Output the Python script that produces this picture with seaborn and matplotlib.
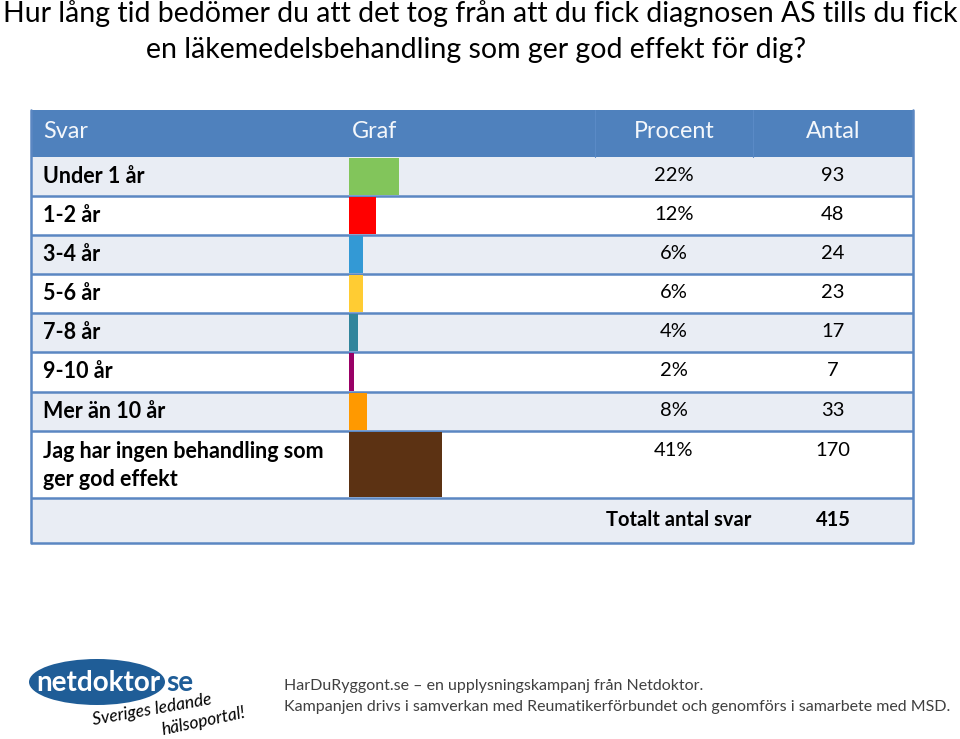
import numpy as np
import pandas as pd
import matplotlib
matplotlib.use("Agg")
import matplotlib.pyplot as plt
import seaborn as sns
from matplotlib.patches import Rectangle, Ellipse

# ---------------- data ----------------
categories = ["Under 1 år", "1-2 år", "3-4 år", "5-6 år", "7-8 år", "9-10 år",
              "Mer än 10 år", "Jag har ingen behandling som\nger god effekt"]
percent = [22, 12, 6, 6, 4, 2, 8, 41]
antal = [93, 48, 24, 23, 17, 7, 33, 170]
total_label = "Totalt antal svar"
total = 415
bar_colors = ["#82C55B", "#FF0000", "#3399D5", "#FFCC33", "#31859C",
              "#990066", "#FF9900", "#5C3213"]
header = ["Svar", "Graf", "Procent", "Antal"]
title1 = "Hur lång tid bedömer du att det tog från att du fick diagnosen AS tills du fick"
title2 = "en läkemedelsbehandling som ger god effekt för dig?"
footer1 = "HarDuRyggont.se – en upplysningskampanj från Netdoktor."
footer2 = "Kampanjen drivs i samverkan med Reumatikerförbundet och genomförs i samarbete med MSD."

# ---------------- style ----------------
sns.set_theme(style="white")
plt.rcParams["font.family"] = ["Lato", "DejaVu Sans"]

W, H = 960, 739
fig = plt.figure(figsize=(9.6, 7.39), dpi=100)
fig.patch.set_facecolor("white")
bg = fig.add_axes([0, 0, 1, 1])
bg.set_xlim(0, W)
bg.set_ylim(H, 0)
bg.axis("off")

HEADER_C = "#4F81BD"
LINE_C = "#5B87C2"
LIGHT = "#E9EDF4"
L, R = 31, 913
top = 110
row_edges = [157, 196, 235, 274, 313, 352, 392, 431, 498]
tot_top, tot_bot = 498, 543
gx0, gx1 = 349, 595
pc_x, an_x = 674, 833

# title
bg.text(480, 14, title1, ha="center", va="center", fontsize=20.5, color="black")
bg.text(476, 50, title2, ha="center", va="center", fontsize=20.5, color="black")

# header
bg.add_patch(Rectangle((L, top), R - L, row_edges[0] - top, facecolor=HEADER_C, edgecolor="none"))
bg.plot([gx1, gx1], [top, row_edges[0]], color="#5A8AC6", lw=0.8)
bg.plot([753, 753], [top, row_edges[0]], color="#5A8AC6", lw=0.8)
hc = "#F4F7FB"
hs = 16.8
bg.text(43, 132, header[0], ha="left", va="center", fontsize=hs, color=hc)
bg.text(352, 132, header[1], ha="left", va="center", fontsize=hs, color=hc)
bg.text(pc_x, 132, header[2], ha="center", va="center", fontsize=hs, color=hc)
bg.text(an_x, 132, header[3], ha="center", va="center", fontsize=hs, color=hc)

# row fills
for i in range(len(categories)):
    y0, y1 = row_edges[i], row_edges[i + 1]
    bg.add_patch(Rectangle((L, y0), R - L, y1 - y0,
                           facecolor=LIGHT if i % 2 == 0 else "white", edgecolor="none"))
bg.add_patch(Rectangle((L, tot_top), R - L, tot_bot - tot_top, facecolor=LIGHT, edgecolor="none"))

# grid lines
for y in row_edges[1:] + [tot_bot]:
    bg.plot([L, R], [y, y], color=LINE_C, lw=1.8, solid_capstyle="butt")
bg.plot([L, L], [top, tot_bot], color=LINE_C, lw=1.8)
bg.plot([R, R], [top, tot_bot], color=LINE_C, lw=1.8)

# row texts
ls, ns = 15.5, 14.5
for i, (c, p, a) in enumerate(zip(categories, percent, antal)):
    y0, y1 = row_edges[i], row_edges[i + 1]
    if "\n" in c:
        l1, l2 = c.split("\n")
        bg.text(43, y0 + 20, l1, ha="left", va="center", fontsize=ls, fontweight="bold", color="black")
        bg.text(43, y0 + 48, l2, ha="left", va="center", fontsize=ls, fontweight="bold", color="black")
        bg.text(pc_x, y0 + 19, f"{p}%", ha="center", va="center", fontsize=ns, color="black")
        bg.text(an_x, y0 + 19, f"{a}", ha="center", va="center", fontsize=ns, color="black")
    else:
        yc = (y0 + y1) / 2
        bg.text(43, yc, c, ha="left", va="center", fontsize=ls, fontweight="bold", color="black")
        bg.text(pc_x, yc - 1, f"{p}%", ha="center", va="center", fontsize=ns, color="black")
        bg.text(an_x, yc - 1, f"{a}", ha="center", va="center", fontsize=ns, color="black")

yt = (tot_top + tot_bot) / 2
bg.text(751, yt, total_label, ha="right", va="center", fontsize=ns, fontweight="bold", color="black")
bg.text(an_x, yt, f"{total}", ha="center", va="center", fontsize=ns, fontweight="bold", color="black")

# bars
bax = fig.add_axes([gx0 / W, 1 - row_edges[-1] / H, (gx1 - gx0) / W, (row_edges[-1] - row_edges[0]) / H])
bax.patch.set_alpha(0)
df = pd.DataFrame({"Svar": categories, "Procent": percent})
sns.barplot(data=df, x="Procent", y="Svar", hue="Svar", palette=bar_colors,
            legend=False, ax=bax, orient="h", width=1, saturation=1)
for i, patch in enumerate(bax.patches):
    y0, y1 = row_edges[i], row_edges[i + 1]
    patch.set_y(y0 + 1)
    patch.set_height(y1 - y0 - 2)
    patch.set_edgecolor("none")
bax.set_ylim(row_edges[-1], row_edges[0])
bax.set_xlim(0, (gx1 - gx0) / 2.27)
bax.axis("off")

# logo
LOGO_C = "#1F5D97"
bg.add_patch(Ellipse((97, 682), 136, 46, facecolor=LOGO_C, edgecolor="none"))
bg.text(98, 683, "netdoktor", ha="center", va="center", fontsize=20, fontweight="bold", color="white")
bg.text(166, 683, "se", ha="left", va="center", fontsize=20, fontweight="bold", color=LOGO_C)
bg.text(152, 710, "Sveriges ledande", ha="center", va="center", fontsize=12.5, style="italic",
        color="black", rotation=10)
bg.text(204, 721, "hälsoportal!", ha="center", va="center", fontsize=12.5, style="italic",
        color="black", rotation=12)

# footer
bg.text(284, 686, footer1, ha="left", va="center", fontsize=11.5, color="#404040")
bg.text(284, 707, footer2, ha="left", va="center", fontsize=11.5, color="#404040")

fig.savefig("out.png", dpi=100, facecolor="white")
